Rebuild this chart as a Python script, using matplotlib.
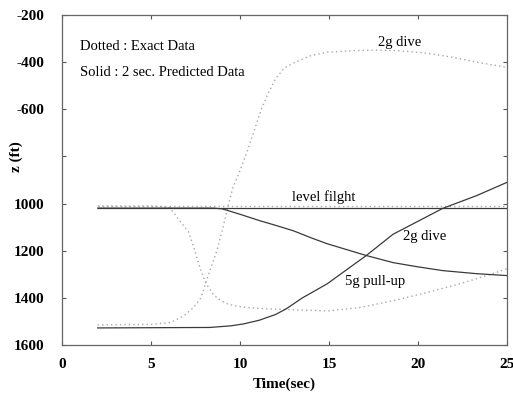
import matplotlib
matplotlib.use("Agg")
import matplotlib.pyplot as plt

# ---- data (z in ft, time in sec) ----
level_t = [2, 25]
level_exact = [-1010, -1010]
level_pred = [-1019, -1019]

dive_exact_t = [2, 5, 6.1, 6.8, 7.4, 7.8, 8.1, 8.7, 9.0, 9.3, 9.6, 10.0, 10.4, 10.8, 11.2, 11.6,
                12.0, 12.5, 13.0, 14.0, 14.9, 16.5, 17.7, 19.0, 20.5, 22.0, 23.3, 25]
dive_exact_z = [-1514, -1512, -1504, -1478, -1440, -1400, -1330, -1200, -1115, -1020, -932, -860,
                -780, -690, -600, -530, -470, -425, -404, -372, -358, -351, -349, -352, -362,
                -380, -400, -422]

pull_exact_t = [2, 5, 6.0, 6.3, 6.6, 7.1, 7.4, 7.8, 8.1, 8.5, 8.9, 9.3, 9.8, 10.5, 11.5, 13,
                14.9, 16.7, 18.6, 20.5, 22.4, 24.2, 25]
pull_exact_z = [-1010, -1010, -1015, -1040, -1072, -1118, -1185, -1283, -1340, -1385, -1410, -1425,
                -1435, -1441, -1446, -1450, -1455, -1441, -1412, -1377, -1339, -1297, -1276]

dive_pred_t = [2, 8.5, 9.0, 10, 11.1, 12, 13.0, 14, 14.9, 16, 17.1, 18.6, 20, 21.4, 23.3, 25]
dive_pred_z = [-1019, -1019, -1022, -1045, -1072, -1092, -1115, -1145, -1170, -1195, -1220, -1250,
               -1268, -1284, -1297, -1305]

pull_pred_t = [2, 8.3, 9.5, 10.2, 11.1, 12.0, 12.6, 13.5, 14.9, 16, 17.1, 18.6, 20, 21.4, 23.3, 25]
pull_pred_z = [-1527, -1525, -1518, -1510, -1494, -1470, -1446, -1400, -1340, -1280, -1220, -1130,
               -1075, -1020, -966, -910]

yticks = [-200, -400, -600, -800, -1000, -1200, -1400, -1600]
ytick_labels = ["-200", "-400", "-600", "", "1000", "1200", "1400", "1600"]
xticks = [0, 5, 10, 15, 20, 25]

serif = ["Liberation Serif", "DejaVu Serif"]
plt.rcParams["font.family"] = serif

fig = plt.figure(figsize=(5.13, 3.94), dpi=100)
ax = fig.add_axes([0.121, 0.124, 0.867, 0.838])

solid_c = "#3a3a3a"
dot_c = "#a8a8a8"
dot_ls = (0, (1, 2.2))
ax.plot(level_t, level_exact, linestyle=dot_ls, color=dot_c, lw=1.0)
ax.plot(dive_exact_t, dive_exact_z, linestyle=dot_ls, color=dot_c, lw=1.0)
ax.plot(pull_exact_t, pull_exact_z, linestyle=dot_ls, color=dot_c, lw=1.0)
ax.plot(level_t, level_pred, color=solid_c, lw=0.9)
ax.plot(dive_pred_t, dive_pred_z, color=solid_c, lw=0.9)
ax.plot(pull_pred_t, pull_pred_z, color=solid_c, lw=0.9)

ax.set_xlim(0, 25)
ax.set_ylim(-1600, -200)
ax.set_xticks(xticks)
ax.set_yticks(yticks)
ax.set_yticklabels(ytick_labels, fontweight="bold", fontsize=11)
ax.set_xticklabels([str(v) for v in xticks], fontweight="bold", fontsize=11)
ax.tick_params(direction="in", length=3, top=True, right=True, color="#555555")
ax.tick_params(axis="y", pad=13)
ax.tick_params(axis="x", pad=9)
for s in ax.spines.values():
    s.set_color("#666666")
    s.set_linewidth(0.9)

ax.set_xlabel("Time(sec)", fontweight="bold", fontsize=11, labelpad=5)
ax.set_ylabel("z (ft)", fontweight="bold", fontsize=11)
ax.yaxis.set_label_coords(-0.088, 0.57)

ax.text(1.0, -334, "Dotted : Exact Data", fontsize=10.5, va="center", ha="left")
ax.text(1.0, -445, "Solid : 2 sec. Predicted Data", fontsize=10.5, va="center", ha="left")
ax.text(19.0, -318, "2g dive", fontsize=10.5, va="center", ha="center")
ax.text(14.7, -972, "level filght", fontsize=10.5, va="center", ha="center")
ax.text(20.4, -1140, "2g dive", fontsize=10.5, va="center", ha="center")
ax.text(17.6, -1330, "5g pull-up", fontsize=10.5, va="center", ha="center")

fig.savefig("out.png", dpi=100)
